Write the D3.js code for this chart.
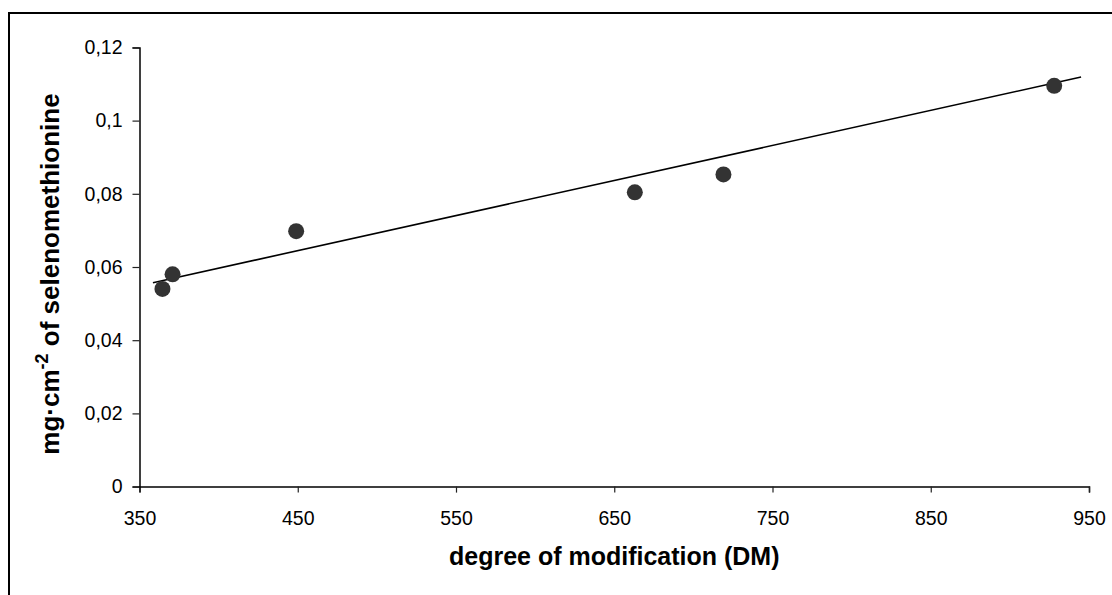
<!DOCTYPE html>
<html><head><meta charset="utf-8">
<script src="https://cdn.jsdelivr.net/npm/d3@7"></script>
<style>
body{margin:0;background:#fff;}
svg{display:block;font-family:"Liberation Sans",Arial,sans-serif;}
</style></head>
<body><svg id="c" width="1112" height="595"></svg>
<script>
const dmValues = [364.5, 370.9, 449, 663, 719, 928];
const seleno = [0.054, 0.058, 0.0698, 0.0804, 0.0853, 0.1095];
const trendX = [358.5, 945];
const trendY = [0.0557, 0.1119];
const xTicks = [350, 450, 550, 650, 750, 850, 950];
const yTicks = [0, 0.02, 0.04, 0.06, 0.08, 0.1, 0.12];
const yTickLabels = ["0", "0,02", "0,04", "0,06", "0,08", "0,1", "0,12"];

const svg = d3.select("#c");
const x = d3.scaleLinear().domain([350, 950]).range([139.5, 1089]);
const y = d3.scaleLinear().domain([0, 0.12]).range([486.6, 47.4]);

// frame (left & top visible)
svg.append("path").attr("d", "M9,600 V13 H1120").attr("fill", "none").attr("stroke", "#000").attr("stroke-width", 2);

const gx = svg.append("g").attr("transform", `translate(0,${y(0)})`)
  .call(d3.axisBottom(x).tickValues(xTicks).tickSize(6).tickPadding(19).tickFormat(d3.format("d")));
const gy = svg.append("g").attr("transform", `translate(${x(350)},0)`)
  .call(d3.axisLeft(y).tickValues(yTicks).tickSize(7).tickPadding(10).tickFormat((d, i) => yTickLabels[i]));
[gx, gy].forEach(g => {
  g.select(".domain").attr("stroke", "#000").attr("stroke-width", 1.5);
  g.selectAll(".tick line").attr("stroke", "#222").attr("stroke-width", 1.2);
  g.selectAll(".tick text").attr("fill", "#000").style("font-size", "19.5px").style("font-family", '"Liberation Sans",Arial,sans-serif');
});

// trendline
svg.append("line")
  .attr("x1", x(trendX[0])).attr("y1", y(trendY[0]))
  .attr("x2", x(trendX[1])).attr("y2", y(trendY[1]))
  .attr("stroke", "#000").attr("stroke-width", 1.6);

// points
svg.append("g").selectAll("circle").data(dmValues).join("circle")
  .attr("cx", d => x(d)).attr("cy", (d, i) => y(seleno[i])).attr("r", 8)
  .attr("fill", "#333333");

// x title
svg.append("text").attr("x", (x(350) + x(950)) / 2).attr("y", 565)
  .attr("text-anchor", "middle").style("font-size", "25px").style("font-weight", "bold")
  .text("degree of modification (DM)");

// y title
const yt = svg.append("text").attr("transform", "translate(59,274) rotate(-90)")
  .attr("text-anchor", "middle").style("font-size", "26px").style("font-weight", "bold");
yt.append("tspan").text("mg·cm");
yt.append("tspan").attr("dy", -11).style("font-size", "18px").text("-2");
yt.append("tspan").attr("dy", 11).text(" of selenomethionine");
</script></body></html>
